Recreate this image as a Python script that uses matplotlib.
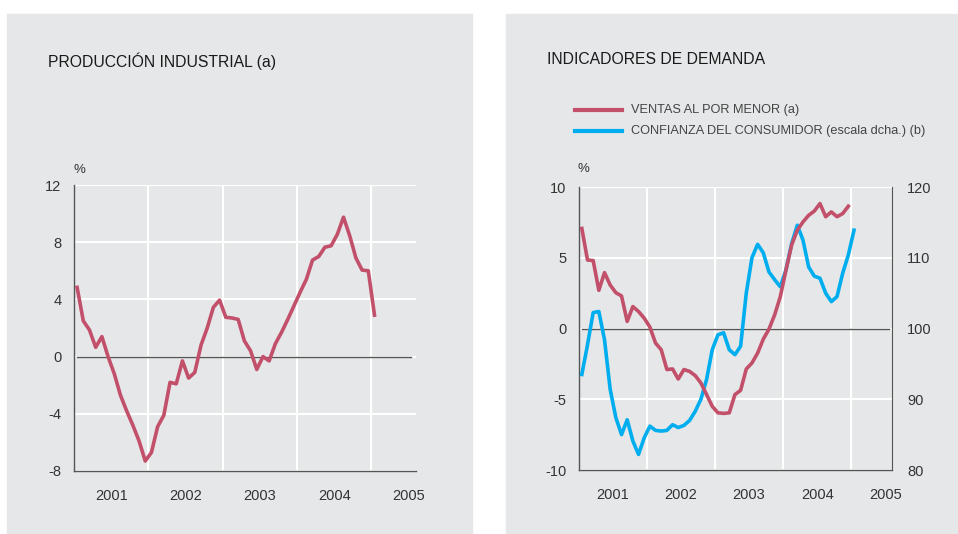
import numpy as np
import matplotlib
matplotlib.use("Agg")
import matplotlib.pyplot as plt
from matplotlib.patches import Rectangle

plt.rcParams['font.family'] = ['Liberation Sans', 'DejaVu Sans']

# --- Data (monthly, Jan 2001 onwards) ---
produccion = [4.84, 2.5, 1.86, 0.65, 1.4, 0.0, -1.2, -2.7, -3.8, -4.8, -5.9, -7.3,
              -6.7, -4.9, -4.1, -1.8, -1.9, -0.3, -1.5, -1.1, 0.8, 2.0, 3.45, 3.95,
              2.75, 2.7, 2.6, 1.1, 0.4, -0.9, 0.0, -0.3, 0.9, 1.7, 2.6, 3.55,
              4.5, 5.4, 6.75, 7.0, 7.65, 7.75, 8.55, 9.75, 8.45, 6.9, 6.05, 6.0,
              2.9]

ventas = [7.07, 4.84, 4.8, 2.7, 3.95, 3.07, 2.53, 2.3, 0.5, 1.55, 1.2, 0.73,
          0.1, -1.03, -1.5, -2.9, -2.86, -3.57, -2.9, -3.03, -3.33, -3.85, -4.67, -5.5,
          -5.96, -6.0, -5.96, -4.67, -4.37, -2.86, -2.44, -1.74, -0.75, -0.05, 0.96, 2.25,
          4.13, 5.9, 6.95, 7.53, 8.0, 8.3, 8.83, 7.9, 8.24, 7.9, 8.12, 8.64]

confianza = [93.5, 97.7, 102.25, 102.4, 98.4, 91.4, 87.4, 85.0, 87.1, 84.1, 82.2, 84.55,
             86.2, 85.6, 85.5, 85.6, 86.4, 86.0, 86.3, 87.0, 88.3, 90.0, 92.8, 97.0,
             99.1, 99.4, 97.0, 96.3, 97.5, 105.0, 110.0, 111.9, 110.7, 108.0, 106.9, 105.9,
             108.3, 112.0, 114.6, 112.5, 108.7, 107.4, 107.1, 105.0, 103.8, 104.5, 107.8, 110.4,
             113.9]

years = [2001, 2002, 2003, 2004, 2005]


def month_pos(n):
    return 2001 + (np.arange(n) + 0.5) / 12.0


RED = '#C2506B'
BLUE = '#00AEEF'
BG = '#E6E7E8'
TXT = '#333333'

fig = plt.figure(figsize=(9.58, 5.34), dpi=100)
W, H = 958, 534

# gray panels (behind the axes)
fig.patches.append(Rectangle((7 / W, 0), (472 - 7) / W, 1 - 14 / H,
                             transform=fig.transFigure, color=BG, zorder=-10))
fig.patches.append(Rectangle((506 / W, 0), (958 - 506) / W, 1 - 14 / H,
                             transform=fig.transFigure, color=BG, zorder=-10))


def style_axes(ax, yticks):
    ax.set_facecolor(BG)
    ax.set_xlim(2001, 2005.6)
    ax.set_xticks([y + 0.5 for y in years])
    ax.set_xticklabels([str(y) for y in years])
    ax.set_xticks([2002, 2003, 2004, 2005], minor=True)
    ax.set_yticks(yticks)
    ax.set_yticklabels([str(t) for t in yticks])
    ax.grid(True, which='minor', axis='x', color='white', linewidth=1.5)
    ax.grid(True, which='major', axis='y', color='white', linewidth=1.5)
    ax.tick_params(axis='x', which='both', length=0, pad=13, labelsize=10.5, labelcolor=TXT)
    ax.tick_params(axis='y', length=0, pad=9, labelsize=10.5, labelcolor=TXT)
    ax.set_axisbelow(True)
    for s in ['top', 'right']:
        ax.spines[s].set_visible(False)
    for s in ['left', 'bottom']:
        ax.spines[s].set_color('#555555')
        ax.spines[s].set_linewidth(1.0)


# --- Left chart: Producción industrial ---
ax1 = fig.add_axes([74 / W, 1 - 471 / H, (416 - 74) / W, (471 - 185) / H])
style_axes(ax1, [-8, -4, 0, 4, 8, 12])
ax1.set_ylim(-8, 12)
ax1.axhline(0, xmin=0.01, xmax=0.985, color='#555555', linewidth=1.0, zorder=1)
ax1.plot(month_pos(len(produccion)), produccion, color=RED, linewidth=2.6, zorder=3)

fig.text(48 / W, 1 - 61 / H, 'PRODUCCIÓN INDUSTRIAL (a)', fontsize=11.3,
         color='#1a1a1a', va='center', ha='left')
fig.text(79 / W, 1 - 170 / H, '%', fontsize=9.5, color=TXT, ha='center', va='center')

# --- Right chart: Indicadores de demanda ---
ax2 = fig.add_axes([579 / W, 1 - 470 / H, (892 - 579) / W, (470 - 187) / H])
style_axes(ax2, [-10, -5, 0, 5, 10])
ax2.set_ylim(-10, 10)
ax2.axhline(0, xmin=0.01, xmax=0.99, color='#555555', linewidth=1.0, zorder=1)

ax3 = ax2.twinx()
ax3.set_ylim(80, 120)
ax3.set_yticks([80, 90, 100, 110, 120])
ax3.tick_params(axis='y', length=0, pad=11, labelsize=10.5, labelcolor=TXT)
for s in ['top', 'left', 'bottom']:
    ax3.spines[s].set_visible(False)
ax3.spines['right'].set_color('#555555')
ax3.plot(month_pos(len(confianza)), confianza, color=BLUE, linewidth=2.6, zorder=3)
# red series on top of the blue one
ax4 = ax2.twinx()
ax4.set_ylim(-10, 10)
ax4.axis('off')
ax4.plot(month_pos(len(ventas)), ventas, color=RED, linewidth=2.6, zorder=3)

fig.text(547 / W, 1 - 60 / H, 'INDICADORES DE DEMANDA', fontsize=11.3,
         color='#1a1a1a', va='center', ha='left')
fig.text(583 / W, 1 - 169 / H, '%', fontsize=9.5, color=TXT, ha='center', va='center')

# legend drawn manually in figure coordinates
for yy, col, lab in [(110, RED, 'VENTAS AL POR MENOR (a)'),
                     (131, BLUE, 'CONFIANZA DEL CONSUMIDOR (escala dcha.) (b)')]:
    fig.add_artist(plt.Line2D([575 / W, 622 / W], [1 - yy / H, 1 - yy / H],
                              transform=fig.transFigure, color=col, linewidth=3))
    fig.text(631 / W, 1 - yy / H, lab, fontsize=9.2, color='#444444', va='center', ha='left')

fig.savefig('out.png', dpi=100, facecolor='white')
